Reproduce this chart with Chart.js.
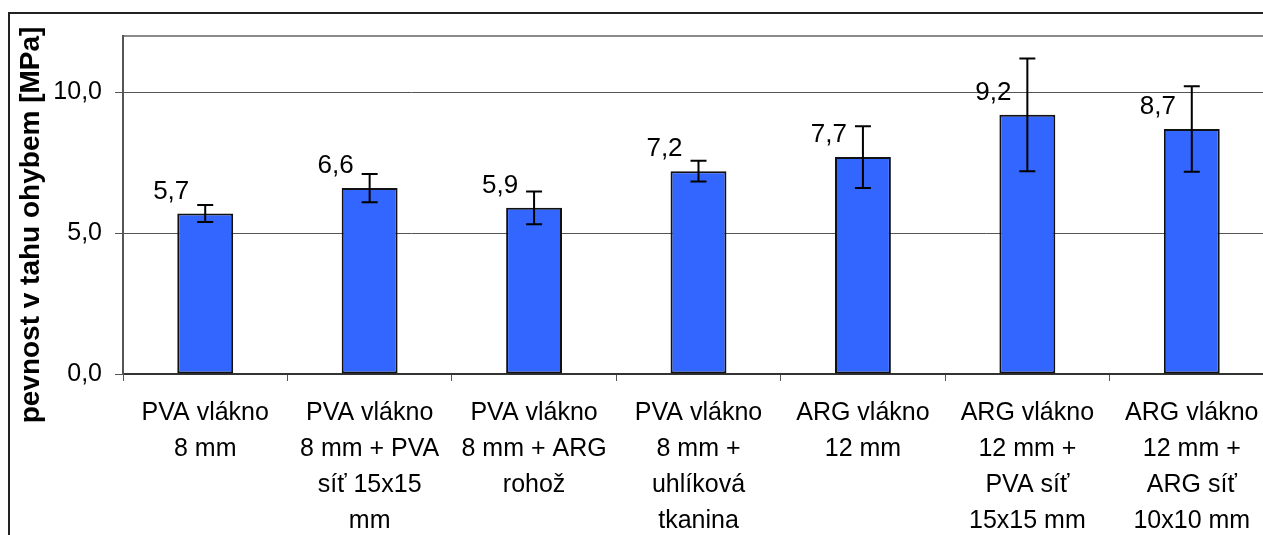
<!DOCTYPE html>
<html>
<head>
<meta charset="utf-8">
<script src="https://cdn.jsdelivr.net/npm/chart.js@4.4.1/dist/chart.umd.min.js"></script>
<style>
  html, body { margin: 0; padding: 0; background: #fff; overflow: hidden; }
  #wrap { position: relative; width: 1263px; height: 535px; overflow: hidden; }
  #frame { position: absolute; left: 8px; top: 12px; width: 1300px; height: 600px; border-left: 2px solid #222; border-top: 2px solid #222; }
  canvas { position: absolute; left: 0; top: 0; }
</style>
</head>
<body>
<div id="wrap">
  <div id="frame"></div>
  <canvas id="chart" width="1290" height="560"></canvas>
</div>
<script>
const categories = [
  ['PVA vlákno', '8 mm'],
  ['PVA vlákno', '8 mm + PVA', 'síť 15x15', 'mm'],
  ['PVA vlákno', '8 mm + ARG', 'rohož'],
  ['PVA vlákno', '8 mm +', 'uhlíková', 'tkanina'],
  ['ARG vlákno', '12 mm'],
  ['ARG vlákno', '12 mm +', 'PVA síť', '15x15 mm'],
  ['ARG vlákno', '12 mm +', 'ARG síť', '10x10 mm']
]
const values = [5.7, 6.6, 5.9, 7.2, 7.7, 9.2, 8.7]
const errors = [0.3, 0.5, 0.58, 0.37, 1.1, 2.0, 1.52]
const yTicks = [0, 5, 10]
const yMax = 12
const yTitle = 'pevnost v tahu ohybem [MPa]'

const FONT = '"Liberation Sans", Arial, sans-serif'
const fmt = (v) => v.toFixed(1).replace('.', ',')

// error bars + value labels
const errorBars = {
  id: 'errorBars',
  afterDatasetsDraw(chart) {
    const {ctx} = chart
    const y = chart.scales.y
    const meta = chart.getDatasetMeta(0)
    ctx.save()
    ctx.strokeStyle = '#000'
    ctx.lineWidth = 2
    meta.data.forEach((bar, i) => {
      const top = y.getPixelForValue(values[i] + errors[i])
      const bottom = y.getPixelForValue(values[i] - errors[i])
      ctx.beginPath()
      ctx.moveTo(bar.x, top)
      ctx.lineTo(bar.x, bottom)
      ctx.moveTo(bar.x - 8, top)
      ctx.lineTo(bar.x + 8, top)
      ctx.moveTo(bar.x - 8, bottom)
      ctx.lineTo(bar.x + 8, bottom)
      ctx.stroke()
    })
    ctx.font = '26px ' + FONT
    ctx.fillStyle = '#000'
    ctx.textAlign = 'center'
    ctx.textBaseline = 'middle'
    meta.data.forEach((bar, i) => {
      ctx.fillText(fmt(values[i]), bar.x - 34, bar.y - 22)
    })
    ctx.restore()
  }
}

// rotated axis title, sits a bit lower than the plot centre
const axisTitle = {
  id: 'axisTitle',
  afterDraw(chart) {
    const {ctx, chartArea} = chart
    ctx.save()
    ctx.translate(chartArea.left - 92, (chartArea.top + chartArea.bottom) / 2 + 20)
    ctx.rotate(-Math.PI / 2)
    ctx.font = 'bold 28px ' + FONT
    ctx.fillStyle = '#000'
    ctx.textAlign = 'center'
    ctx.textBaseline = 'middle'
    ctx.fillText(yTitle, 0, 0)
    ctx.restore()
  }
}

new Chart(document.getElementById('chart'), {
  type: 'bar',
  data: {
    labels: categories,
    datasets: [{
      data: values,
      backgroundColor: '#3366FF',
      borderColor: '#111',
      borderWidth: 2,
      borderSkipped: false,
      categoryPercentage: 1,
      barPercentage: 0.34
    }]
  },
  options: {
    responsive: false,
    animation: false,
    devicePixelRatio: 1,
    layout: { padding: { top: 36, right: 16, left: 0, bottom: 0 } },
    plugins: {
      legend: { display: false },
      tooltip: { enabled: false }
    },
    scales: {
      x: {
        afterFit: (s) => { s.height = 186 },
        grid: { drawOnChartArea: false, tickLength: 7, color: '#555', lineWidth: 1 },
        border: { color: '#333', width: 2 },
        ticks: {
          color: '#000',
          font: { family: FONT, size: 25, lineHeight: 1.44 },
          padding: 14,
          maxRotation: 0,
          autoSkip: false
        }
      },
      y: {
        min: 0,
        max: yMax,
        afterFit: (s) => { s.width = 123 },
        afterBuildTicks: (s) => { s.ticks = yTicks.concat([yMax]).map((v) => ({value: v})) },
        grid: {
          color: (c) => c.tick && c.tick.value === yMax ? '#8a8a8a' : '#555',
          lineWidth: (c) => c.tick && c.tick.value === yMax ? 2 : 1,
          tickColor: (c) => c.tick && c.tick.value === yMax ? 'rgba(0,0,0,0)' : '#555',
          tickLength: 8
        },
        border: { color: '#555', width: 2 },
        ticks: {
          color: '#000',
          font: { family: FONT, size: 25 },
          padding: 13,
          callback: (v) => yTicks.includes(v) ? fmt(v) : ''
        }
      }
    }
  },
  plugins: [errorBars, axisTitle]
})
</script>
</body>
</html>
